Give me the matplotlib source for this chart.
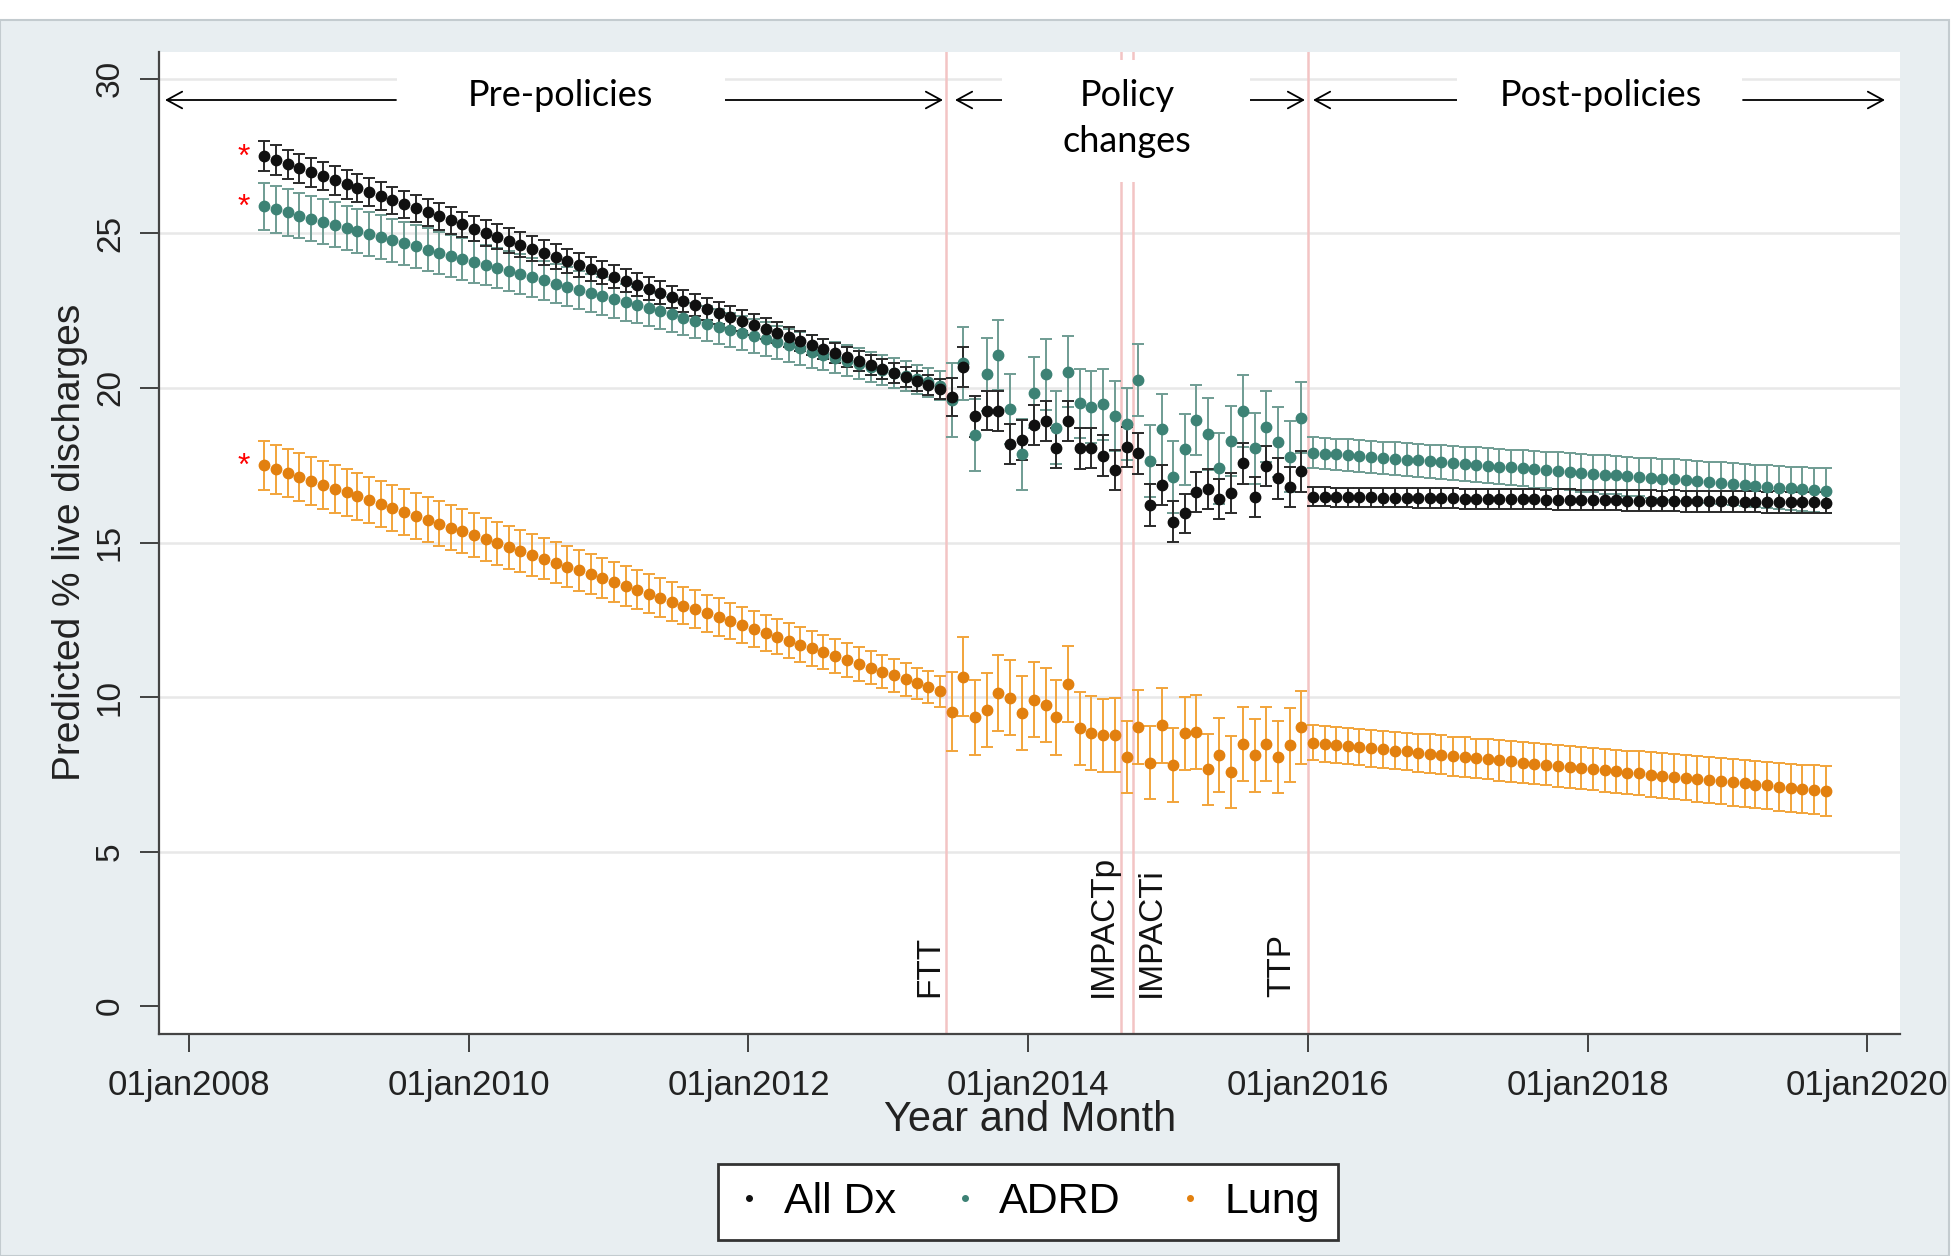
import matplotlib
matplotlib.use('Agg')
import matplotlib.pyplot as plt
import matplotlib.dates as mdates
from matplotlib.lines import Line2D
from matplotlib.patches import Rectangle
from matplotlib.ticker import FuncFormatter
import pandas as pd

# monthly predictions, plotted at mid-month
pre_months = pd.date_range('2008-07-01', '2013-05-01', freq='MS') + pd.Timedelta(days=14)
policy_months = pd.date_range('2013-06-01', '2015-12-01', freq='MS') + pd.Timedelta(days=14)
post_months = pd.date_range('2016-01-01', '2019-09-01', freq='MS') + pd.Timedelta(days=14)

# All Dx
alldx_pre = [27.50, 27.37, 27.24, 27.11, 26.98, 26.85, 26.72, 26.59, 26.46, 26.33,
             26.20, 26.07, 25.94, 25.81, 25.68, 25.55, 25.42, 25.29, 25.16, 25.03,
             24.90, 24.77, 24.64, 24.51, 24.38, 24.25, 24.12, 23.99, 23.86, 23.73,
             23.60, 23.47, 23.34, 23.21, 23.08, 22.95, 22.82, 22.69, 22.56, 22.43,
             22.30, 22.17, 22.04, 21.91, 21.78, 21.65, 21.52, 21.39, 21.26, 21.13,
             21.00, 20.87, 20.74, 20.61, 20.48, 20.35, 20.22, 20.09, 19.96]
alldx_policy = [19.70, 20.69, 19.09, 19.27, 19.26, 18.19, 18.32, 18.80, 18.93, 18.07,
                18.93, 18.05, 18.05, 17.81, 17.35, 18.10, 17.89, 16.21, 16.86, 15.67,
                15.94, 16.64, 16.73, 16.41, 16.61, 17.56, 16.48, 17.48, 17.08, 16.81, 17.31]
alldx_post = [16.48, 16.48, 16.47, 16.47, 16.46, 16.46, 16.45, 16.45, 16.45, 16.44,
              16.44, 16.43, 16.43, 16.42, 16.42, 16.42, 16.41, 16.41, 16.40, 16.40,
              16.39, 16.39, 16.39, 16.38, 16.38, 16.37, 16.37, 16.36, 16.36, 16.36,
              16.35, 16.35, 16.34, 16.34, 16.33, 16.33, 16.33, 16.32, 16.32, 16.31,
              16.31, 16.30, 16.30, 16.30, 16.29]
alldx_ci_pre = [0.48, 0.48, 0.47, 0.47, 0.47, 0.46, 0.46, 0.46, 0.45, 0.45,
                0.45, 0.44, 0.44, 0.44, 0.43, 0.43, 0.43, 0.42, 0.42, 0.42,
                0.41, 0.41, 0.41, 0.40, 0.40, 0.40, 0.39, 0.39, 0.39, 0.38,
                0.38, 0.38, 0.37, 0.37, 0.37, 0.36, 0.36, 0.36, 0.35, 0.35,
                0.35, 0.34, 0.34, 0.34, 0.34, 0.33, 0.33, 0.33, 0.33, 0.33,
                0.32, 0.32, 0.32, 0.32, 0.32, 0.32, 0.32, 0.32, 0.32]
alldx_ci_policy = [0.62, 0.65, 0.66, 0.64, 0.65, 0.66, 0.64, 0.65, 0.66, 0.65,
                   0.64, 0.66, 0.65, 0.66, 0.65, 0.64, 0.66, 0.67, 0.65, 0.66,
                   0.64, 0.65, 0.66, 0.64, 0.65, 0.66, 0.65, 0.64, 0.66, 0.65, 0.66]
alldx_ci_post = [0.31, 0.31, 0.31, 0.31, 0.31, 0.31, 0.31, 0.31, 0.31, 0.31,
                 0.31, 0.32, 0.32, 0.32, 0.32, 0.32, 0.32, 0.32, 0.32, 0.32,
                 0.32, 0.33, 0.33, 0.33, 0.33, 0.33, 0.33, 0.33, 0.33, 0.33,
                 0.33, 0.34, 0.34, 0.34, 0.34, 0.34, 0.34, 0.34, 0.34, 0.34,
                 0.35, 0.35, 0.35, 0.35, 0.35]

# ADRD
adrd_pre = [25.88, 25.78, 25.68, 25.58, 25.48, 25.38, 25.28, 25.18, 25.08, 24.98,
            24.88, 24.78, 24.68, 24.58, 24.48, 24.38, 24.28, 24.18, 24.08, 23.98,
            23.88, 23.78, 23.68, 23.58, 23.48, 23.38, 23.28, 23.18, 23.08, 22.98,
            22.88, 22.78, 22.68, 22.58, 22.48, 22.38, 22.28, 22.18, 22.08, 21.98,
            21.88, 21.78, 21.68, 21.58, 21.48, 21.38, 21.28, 21.18, 21.08, 20.98,
            20.88, 20.78, 20.68, 20.58, 20.48, 20.38, 20.28, 20.18, 20.08]
adrd_policy = [19.60, 20.80, 18.48, 20.44, 21.07, 19.31, 17.85, 19.85, 20.44, 18.72,
               20.53, 19.50, 19.39, 19.47, 19.09, 18.83, 20.26, 17.64, 18.66, 17.13,
               18.02, 18.96, 18.51, 17.40, 18.28, 19.26, 18.05, 18.75, 18.26, 17.78, 19.04]
adrd_post = [17.91, 17.88, 17.85, 17.83, 17.80, 17.77, 17.74, 17.71, 17.68, 17.66,
             17.63, 17.60, 17.57, 17.54, 17.52, 17.49, 17.46, 17.43, 17.40, 17.37,
             17.35, 17.32, 17.29, 17.26, 17.23, 17.20, 17.18, 17.15, 17.12, 17.09,
             17.06, 17.04, 17.01, 16.98, 16.95, 16.92, 16.89, 16.87, 16.84, 16.81,
             16.78, 16.75, 16.72, 16.70, 16.67]
adrd_ci_pre = [0.76, 0.75, 0.75, 0.74, 0.74, 0.73, 0.73, 0.72, 0.72, 0.71,
               0.71, 0.70, 0.70, 0.69, 0.69, 0.68, 0.68, 0.67, 0.67, 0.66,
               0.66, 0.65, 0.65, 0.64, 0.63, 0.63, 0.62, 0.62, 0.61, 0.61,
               0.60, 0.60, 0.59, 0.59, 0.58, 0.58, 0.57, 0.57, 0.56, 0.56,
               0.55, 0.55, 0.54, 0.54, 0.53, 0.53, 0.52, 0.52, 0.51, 0.51,
               0.50, 0.50, 0.49, 0.49, 0.48, 0.48, 0.47, 0.47, 0.46]
adrd_ci_policy = [1.20, 1.18, 1.15, 1.17, 1.14, 1.13, 1.16, 1.15, 1.14, 1.17,
                  1.15, 1.13, 1.16, 1.15, 1.14, 1.16, 1.15, 1.17, 1.14, 1.16,
                  1.15, 1.13, 1.16, 1.15, 1.14, 1.17, 1.15, 1.16, 1.14, 1.16, 1.15]
adrd_ci_post = [0.49, 0.50, 0.50, 0.51, 0.51, 0.52, 0.52, 0.53, 0.53, 0.54,
                0.54, 0.55, 0.55, 0.56, 0.56, 0.57, 0.57, 0.58, 0.58, 0.59,
                0.59, 0.60, 0.60, 0.61, 0.61, 0.62, 0.62, 0.63, 0.63, 0.64,
                0.64, 0.65, 0.65, 0.66, 0.66, 0.67, 0.67, 0.68, 0.68, 0.69,
                0.70, 0.70, 0.71, 0.72, 0.73]

# Lung
lung_pre = [17.50, 17.37, 17.25, 17.12, 17.00, 16.87, 16.74, 16.62, 16.49, 16.37,
            16.24, 16.11, 15.99, 15.86, 15.74, 15.61, 15.48, 15.36, 15.23, 15.11,
            14.98, 14.85, 14.73, 14.60, 14.48, 14.35, 14.22, 14.10, 13.97, 13.85,
            13.72, 13.59, 13.47, 13.34, 13.22, 13.09, 12.96, 12.84, 12.71, 12.59,
            12.46, 12.33, 12.21, 12.08, 11.96, 11.83, 11.70, 11.58, 11.45, 11.33,
            11.20, 11.07, 10.95, 10.82, 10.70, 10.57, 10.44, 10.32, 10.19]
lung_policy = [9.53, 10.66, 9.34, 9.58, 10.12, 9.98, 9.49, 9.92, 9.74, 9.34,
               10.41, 8.99, 8.85, 8.77, 8.77, 8.07, 9.04, 7.87, 9.09, 7.80,
               8.83, 8.86, 7.66, 8.12, 7.58, 8.48, 8.12, 8.48, 8.07, 8.45, 9.02]
lung_post = [8.52, 8.48, 8.45, 8.41, 8.38, 8.34, 8.31, 8.27, 8.24, 8.20,
             8.17, 8.13, 8.09, 8.06, 8.02, 7.99, 7.95, 7.92, 7.88, 7.85,
             7.81, 7.78, 7.74, 7.71, 7.67, 7.63, 7.60, 7.56, 7.53, 7.49,
             7.46, 7.42, 7.39, 7.35, 7.31, 7.28, 7.24, 7.21, 7.17, 7.14,
             7.10, 7.07, 7.03, 7.00, 6.96]
lung_ci_pre = [0.80, 0.79, 0.79, 0.78, 0.78, 0.77, 0.77, 0.76, 0.76, 0.75,
               0.75, 0.74, 0.74, 0.73, 0.73, 0.72, 0.72, 0.71, 0.71, 0.70,
               0.70, 0.69, 0.69, 0.68, 0.67, 0.67, 0.66, 0.66, 0.65, 0.65,
               0.64, 0.64, 0.63, 0.63, 0.62, 0.62, 0.61, 0.61, 0.60, 0.60,
               0.59, 0.59, 0.58, 0.58, 0.57, 0.57, 0.56, 0.56, 0.55, 0.55,
               0.54, 0.54, 0.53, 0.53, 0.52, 0.52, 0.51, 0.51, 0.50]
lung_ci_policy = [1.29, 1.27, 1.22, 1.20, 1.23, 1.21, 1.19, 1.22, 1.20, 1.21,
                  1.23, 1.19, 1.20, 1.18, 1.19, 1.17, 1.20, 1.18, 1.21, 1.19,
                  1.18, 1.20, 1.16, 1.19, 1.17, 1.20, 1.18, 1.19, 1.17, 1.20, 1.18]
lung_ci_post = [0.57, 0.58, 0.58, 0.59, 0.59, 0.60, 0.60, 0.61, 0.61, 0.62,
                0.62, 0.63, 0.63, 0.64, 0.64, 0.65, 0.65, 0.66, 0.66, 0.67,
                0.67, 0.68, 0.68, 0.69, 0.69, 0.70, 0.70, 0.71, 0.71, 0.72,
                0.72, 0.73, 0.73, 0.74, 0.74, 0.75, 0.75, 0.76, 0.76, 0.77,
                0.77, 0.78, 0.78, 0.79, 0.80]

policy_dates = ['2013-06-01', '2014-09-01', '2014-10-01', '2016-01-01']
policy_names = ['FTT', 'IMPACTp', 'IMPACTi', 'TTP']

series = [
    ('ADRD', adrd_pre + adrd_policy + adrd_post,
     adrd_ci_pre + adrd_ci_policy + adrd_ci_post, '#3d8275', '#6f9c93'),
    ('All Dx', alldx_pre + alldx_policy + alldx_post,
     alldx_ci_pre + alldx_ci_policy + alldx_ci_post, '#101010', '#2a2a2a'),
    ('Lung', lung_pre + lung_policy + lung_post,
     lung_ci_pre + lung_ci_policy + lung_ci_post, '#e2800f', '#f2a43a'),
]
months = list(pre_months) + list(policy_months) + list(post_months)

W, H = 1953, 1256


def fx(px):
    return px / W


def fy(py):
    return 1 - py / H


plt.rcParams['font.family'] = ['Liberation Sans', 'DejaVu Sans']

fig = plt.figure(figsize=(W / 100, H / 100), dpi=100, facecolor='white')
fig.add_artist(Rectangle((0, 0), fx(1949), fy(20), transform=fig.transFigure,
                         facecolor='#e8eef1', edgecolor='#c3cbcf', lw=1.5, zorder=-1))

ax = fig.add_axes([fx(159.3), fy(1034), fx(1900 - 159.3), (1034 - 51.7) / H])
ax.set_facecolor('white')

for name, vals, ci, mcol, ecol in series:
    ax.errorbar(months, vals, yerr=ci, fmt='o', color=mcol, ecolor=ecol, ms=7.5,
                elinewidth=1.4, capsize=4, capthick=1.4, zorder=3)

# policy lines and their labels
for d, name in zip(policy_dates, policy_names):
    ax.axvline(pd.Timestamp(d), color='#f3c4c4', lw=1.8, zorder=2)
label_pos = {'FTT': ('right', -1), 'IMPACTp': ('right', -2),
             'IMPACTi': ('left', 3), 'TTP': ('right', -11)}
for d, name in zip(policy_dates, policy_names):
    ha, dx = label_pos[name]
    ax.annotate(name, xy=(pd.Timestamp(d), 0.29), xytext=(dx, 0),
                textcoords='offset pixels', rotation=90, ha=ha, va='bottom',
                fontsize=24, color='#111')

# significance stars next to the first point of each series
for name, vals, ci, mcol, ecol in series:
    ax.annotate('*', xy=(months[0], vals[0]), xytext=(-20, -2),
                textcoords='offset pixels', ha='center', va='center',
                fontsize=23, color='red')

ax.set_xlim(pd.Timestamp('2007-10-15'), pd.Timestamp('2020-03-27'))
ax.set_ylim(-0.9, 30.88)
ax.set_yticks(range(0, 31, 5))
ax.xaxis.set_major_locator(mdates.YearLocator(2))
ax.xaxis.set_major_formatter(FuncFormatter(
    lambda v, pos: mdates.num2date(v).strftime('%d%b%Y').lower()))
ax.tick_params(axis='x', length=13, width=1.3, pad=12, labelsize=25, colors='#333',
               labelcolor='#222')
ax.tick_params(axis='y', length=14, width=1.3, pad=10, labelsize=24, colors='#333',
               labelcolor='#222', labelrotation=90)
for lab in ax.get_yticklabels():
    lab.set_va('center')

ax.yaxis.grid(True, color='#e8e8e8', lw=1.8)
ax.set_axisbelow(True)
ax.yaxis.get_gridlines()[0].set_visible(False)
for s in ['top', 'right']:
    ax.spines[s].set_visible(False)
for s in ['left', 'bottom']:
    ax.spines[s].set_color('#444')
    ax.spines[s].set_linewidth(1.6)

ax.set_ylabel('Predicted % live discharges', fontsize=28, color='#222')
ax.yaxis.set_label_coords((88 - 159.3) / (1900 - 159.3), 0.5)
ax.set_xlabel('Year and Month', fontsize=30, color='#222')
ax.xaxis.set_label_coords(0.5, (1034 - 1100) / (1034 - 51.7))

# period headers with arrows (white boxes hide the grid behind them)
for x0, x1, y0, y1 in [(397, 725, 60, 140), (1002, 1250, 60, 182), (1457, 1742, 60, 140)]:
    fig.add_artist(Rectangle((fx(x0), fy(y1)), fx(x1 - x0), (y1 - y0) / H,
                             transform=fig.transFigure, facecolor='white',
                             edgecolor='none', zorder=1))

head_font = dict(family=['Lato', 'DejaVu Sans'], fontsize=26, color='black',
                 ha='center', va='center', zorder=3)
fig.text(fx(560), fy(96), 'Pre-policies', **head_font)
fig.text(fx(1127), fy(96), 'Policy', **head_font)
fig.text(fx(1127), fy(141), 'changes', **head_font)
fig.text(fx(1601), fy(96), 'Post-policies', **head_font)

arrows = [(396, 165), (725, 943), (1002, 955), (1250, 1305), (1457, 1313), (1743, 1885)]
for xs, xe in arrows:
    ax.annotate('', xy=(fx(xe), fy(100)), xytext=(fx(xs), fy(100)),
                xycoords='figure fraction', textcoords='figure fraction',
                arrowprops=dict(arrowstyle='->,head_length=0.55,head_width=0.3',
                                color='black', lw=1.3, mutation_scale=20,
                                shrinkA=0, shrinkB=0))

handles = [Line2D([], [], ls='none', marker='o', ms=4, color=c)
           for c in ['#101010', '#3d8275', '#e2800f']]
leg = fig.legend(handles, ['All Dx', 'ADRD', 'Lung'], loc='center',
                 bbox_to_anchor=(fx(1028), fy(1202)), ncol=3, fontsize=31,
                 frameon=True, fancybox=False, framealpha=1, edgecolor='#333',
                 handlelength=0.6, handletextpad=0.5, columnspacing=1.3,
                 borderpad=0.42)
leg.get_frame().set_linewidth(2)

fig.savefig('out.png', dpi=100, facecolor=fig.get_facecolor())
